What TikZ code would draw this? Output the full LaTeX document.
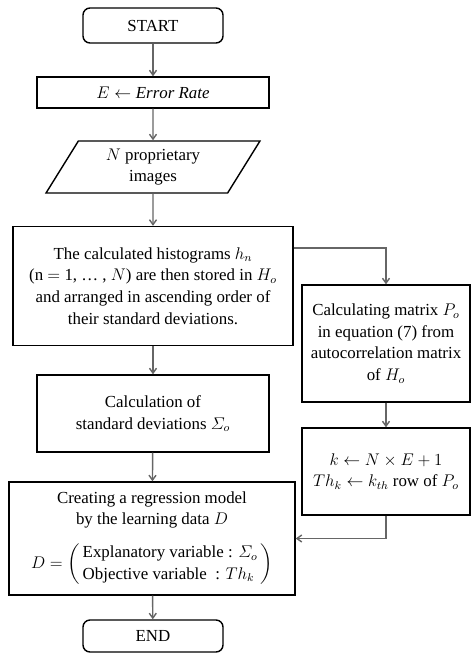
\documentclass[tikz,border=0pt]{standalone}
\usepackage{amsmath}
\usepackage{fontspec}
\setmainfont{Liberation Serif}
\usetikzlibrary{shapes.geometric,arrows.meta,calc}
\begin{document}
\begin{tikzpicture}[x=0.711pt,y=-0.711pt,>={Straight Barb[length=3.5pt,width=5pt]},
  box/.style={draw,line width=1pt,align=center,inner sep=2pt,
    font=\fontsize{12}{15.4}\selectfont},
  sz/.style 2 args={minimum width=#1*0.711pt,minimum height=#2*0.711pt},
  term/.style={box,rounded corners=5pt},
  io/.style={box,trapezium,trapezium left angle=63,trapezium right angle=117,
    trapezium stretches=true},
  arr/.style={->,draw=black!60,line width=1pt}]
\useasboundingbox (0,0) rectangle (471,654);
\node[term,sz={140}{35}] (start) at (153,25.5) {START};
\node[box,sz={232}{31}] (err) at (153,92.5) {$E \leftarrow \mathit{Error\ Rate}$};
\node[io,sz={214}{52}] (imgs) at (153,167) {$N$ proprietary\\images};
\node[box,sz={280}{119}] (hist) at (153,286)
  {The calculated histograms $h_n$\\(n $=$ 1, \ldots\ , $N$) are then stored in $H_o$\\and arranged in ascending order of\\their standard deviations.};
\node[box,sz={232}{77}] (calc) at (153,413.5) {Calculation of\\standard deviations $\varSigma_o$};
\node[box,sz={168}{117}] (ac) at (386,343.5)
  {Calculating matrix $P_o$\\in equation (7) from\\autocorrelation matrix\\of $H_o$};
\node[box,sz={168}{87}] (thk) at (386,471.5)
  {$k \leftarrow N \times E + 1$\\$Th_k \leftarrow k_{th}$ row of $P_o$};
\node[box,sz={286}{113}] (reg) at (152,538.5)
  {Creating a regression model\\by the learning data $D$\\[9pt]
   $D = \left(\text{\begin{tabular}{@{\,}l@{\,}}Explanatory variable : $\varSigma_o$\\Objective variable \ : $Th_k$\end{tabular}}\right)$};
\node[term,sz={140}{32}] (end) at (153,636) {END};
\coordinate (split) at ($(hist.north east)+(0,22)$);
\draw[arr] (start) -- (err);
\draw[arr] (err) -- (imgs);
\draw[arr] (imgs) -- (hist);
\draw[arr] (hist) -- (calc);
\draw[arr] (calc) -- (reg);
\draw[arr] (reg) -- (end);
\draw[arr] (split) -| (ac);
\draw[arr] (ac) -- (thk);
\draw[arr] (thk) |- (reg);
\end{tikzpicture}
\end{document}
